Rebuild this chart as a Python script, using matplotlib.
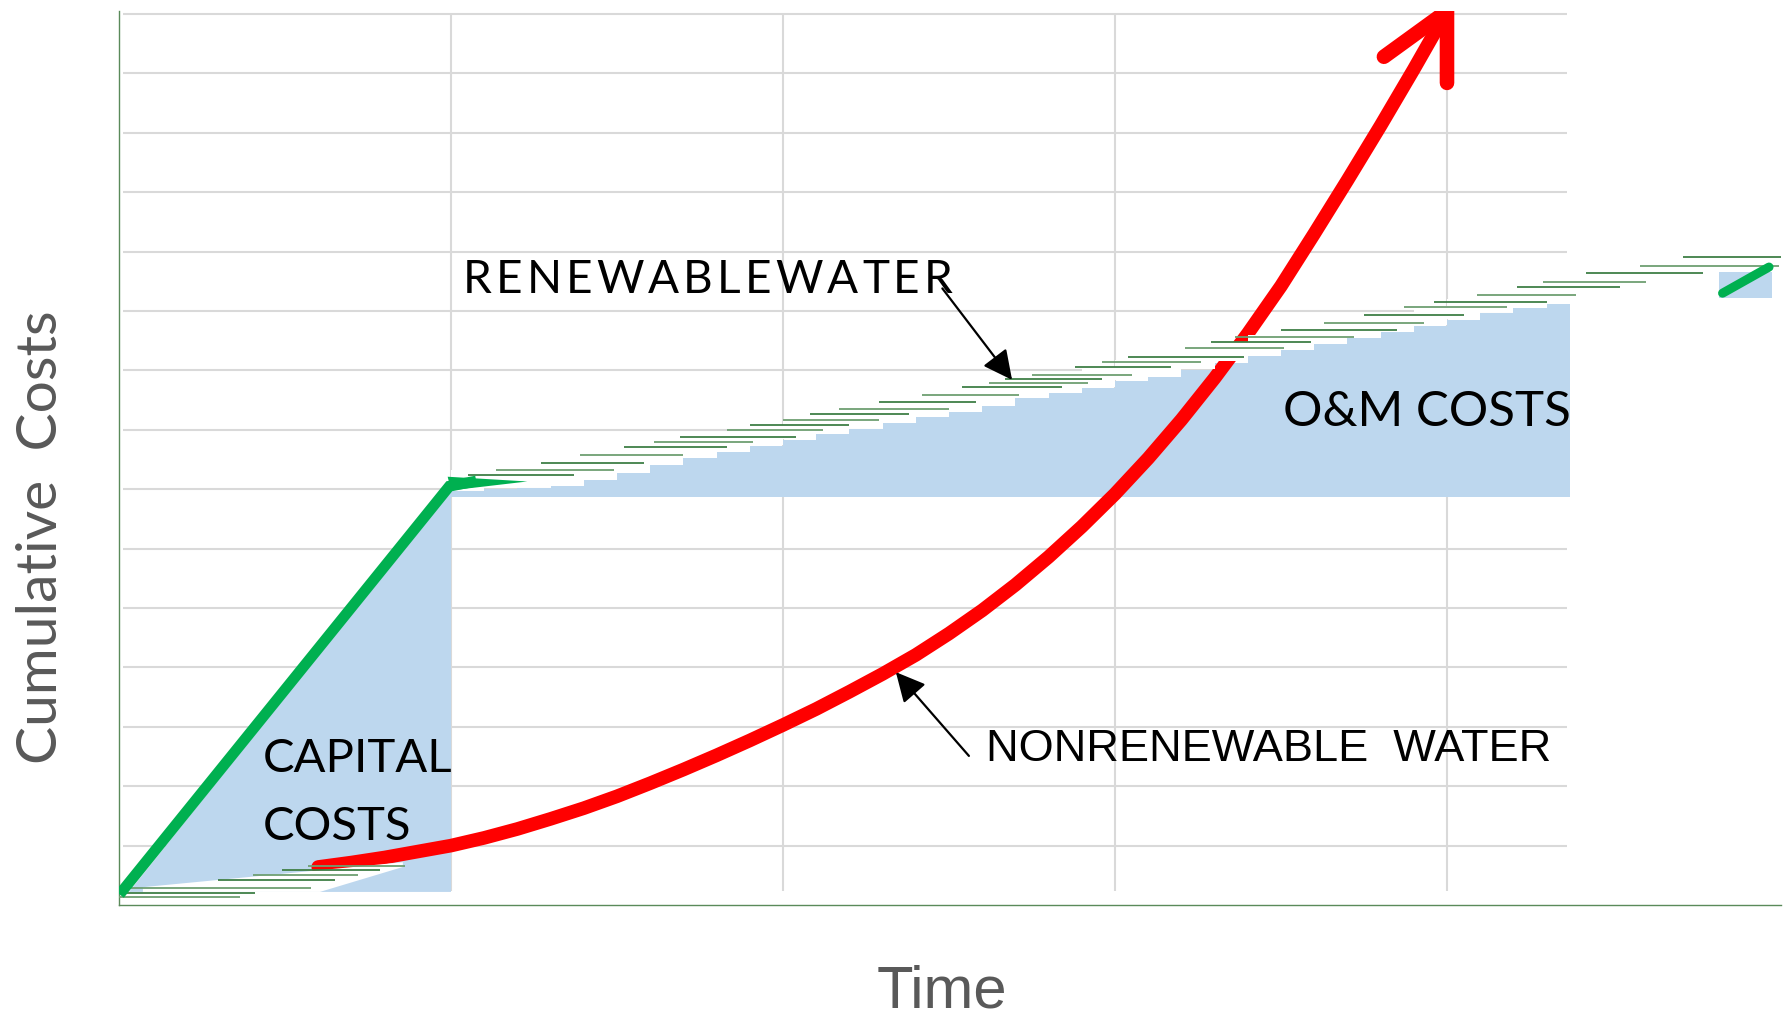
import matplotlib
matplotlib.use("Agg")
import matplotlib.pyplot as plt

# %% Dados (unidades do gráfico: x = tempo, y = custo acumulado)
# linha verde - renovável (custo de capital)
cap_x = [0.012, 0.995, 1.06]
cap_y = [0.25, 7.05, 7.12]
taper_x = [0.99, 1.23, 1.0]
taper_y = [7.21, 7.13, 6.98]
# área azul - capital
capfill_x = [0.03, 1.0, 1.0]
capfill_y = [0.22, 7.0, 0.22]
# área azul - O&M (degraus)
om_x = [1.0, 1.1, 1.2, 1.3, 1.4, 1.5, 1.6, 1.7, 1.8, 1.9, 2.0, 2.1, 2.2, 2.3, 2.4, 2.5, 2.6,
        2.7, 2.8, 2.9, 3.0, 3.1, 3.2, 3.3, 3.4, 3.5, 3.6, 3.7, 3.8, 3.9, 4.0, 4.1, 4.2, 4.3, 4.37]
om_top = [6.97, 7.0, 7.02, 7.05, 7.15, 7.28, 7.40, 7.52, 7.62, 7.73, 7.83, 7.93, 8.02, 8.12,
          8.21, 8.30, 8.40, 8.53, 8.62, 8.70, 8.82, 8.89, 9.0, 9.13, 9.24, 9.34, 9.44, 9.54,
          9.64, 9.74, 9.85, 9.96, 10.05, 10.12, 10.12]
om_base = 6.87
# linhas finas verdes (degraus "renewable water")
step_y = [7.24, 7.33, 7.44, 7.58, 7.71, 7.79, 7.88, 8.00, 8.08, 8.16, 8.27, 8.35, 8.47, 8.59,
          8.72, 8.79, 8.86, 8.92, 9.06, 9.14, 9.23, 9.38, 9.48, 9.56, 9.68, 9.80, 9.93, 10.07,
          10.15, 10.27, 10.40, 10.49, 10.64, 10.76, 10.91,
          0.135, 0.20, 0.286, 0.42, 0.505, 0.59, 0.657]
step_x0 = [1.05, 1.135, 1.27, 1.39, 1.52, 1.61, 1.69, 1.83, 1.90, 2.00, 2.08, 2.17, 2.29, 2.42,
           2.54, 2.62, 2.67, 2.75, 2.88, 2.96, 3.04, 3.21, 3.29, 3.36, 3.50, 3.63, 3.75, 3.87,
           3.96, 4.09, 4.21, 4.29, 4.42, 4.58, 4.71,
           0.0, 0.0, 0.0, 0.298, 0.404, 0.49, 0.57]
step_x1 = [1.37, 1.49, 1.58, 1.70, 1.83, 1.91, 2.04, 2.12, 2.20, 2.29, 2.38, 2.50, 2.58, 2.71,
           2.84, 2.92, 2.96, 3.05, 3.17, 3.26, 3.39, 3.51, 3.59, 3.72, 3.85, 3.93, 4.05, 4.18,
           4.30, 4.39, 4.52, 4.60, 4.77, 5.00, 5.01,
           0.364, 0.41, 0.578, 0.65, 0.72, 0.786, 0.86]
# recorte branco no canto inferior
wedge_x = [0.072, 0.855, 0.855, 0.605, 0.072]
wedge_y = [0.30, 0.72, 0.64, 0.22, 0.22]
# linha vermelha - não renovável
red_x = [0.6, 0.7, 0.8, 0.9, 1.0, 1.1, 1.2, 1.3, 1.4, 1.5, 1.6, 1.7, 1.8, 1.9, 2.0, 2.1, 2.2,
         2.3, 2.4, 2.5, 2.6, 2.7, 2.8, 2.9, 3.0, 3.1, 3.2, 3.3, 3.4, 3.5, 3.6, 3.7, 3.8, 3.9, 4.0]
red_y = [0.64, 0.715, 0.80, 0.90, 1.0, 1.13, 1.28, 1.45, 1.63, 1.83, 2.05, 2.28, 2.52, 2.77,
         3.03, 3.30, 3.59, 3.89, 4.21, 4.57, 4.96, 5.39, 5.86, 6.37, 6.92, 7.52, 8.17, 8.87,
         9.62, 10.42, 11.30, 12.20, 13.12, 14.07, 15.05]
barb_x = [3.81, 4.0, 4.0]
barb_y = [14.28, 15.05, 13.84]
# pedaço solto à direita
mini_x = [4.83, 4.97]
mini_y = [10.30, 10.74]

# %% Cores
azul = "#bdd7ee"
verde = "#00b050"
verde_fino = "#3f7f46"
vermelho = "#ff0000"
grade = "#d9d9d9"
cinza = "#595959"

# %% Figura
fig = plt.figure(figsize=(17.9, 10.16), dpi=100)
ax = fig.add_axes([119/1790, 111/1016, 1662/1790, 894/1016])
ax.set_xlim(0, 1662/332)
ax.set_ylim(0, 894/59.4)
ax.set_xticks([])
ax.set_yticks([])
for s in ["top", "right"]:
    ax.spines[s].set_visible(False)
for s in ["left", "bottom"]:
    ax.spines[s].set_color("#5a8a5a")
    ax.spines[s].set_linewidth(1.0)

# grade
ax.hlines(range(1, 16), 0.012, 4.36, color=grade, lw=1.5, zorder=0.5)
ax.vlines(range(1, 5), 0.235, 15, color=grade, lw=1.5, zorder=0.5)

# áreas azuis
ax.fill(capfill_x, capfill_y, color=azul, lw=0, zorder=1)
ax.fill_between(om_x, om_base, om_top, step="post", color=azul, lw=0, zorder=1)
ax.fill_between([4.82, 4.98], 10.22, 10.66, color=azul, lw=0, zorder=1)

# curva vermelha
ax.plot(red_x, red_y, color=vermelho, lw=9.8, solid_capstyle="round",
        solid_joinstyle="round", zorder=2)
ax.plot(barb_x, barb_y, color=vermelho, lw=10.5, solid_capstyle="round",
        solid_joinstyle="round", zorder=2)

# faixa branca acima dos degraus e recorte inferior
ax.fill_between(om_x, [v + 0.02 for v in om_top], [v + 0.35 for v in om_top],
                step="post", color="white", lw=0, zorder=3)
ax.fill(wedge_x, wedge_y, color="white", lw=0, zorder=3)

# linhas finas verdes
for i, (y, a, b) in enumerate(zip(step_y, step_x0, step_x1)):
    ax.plot([a, b], [y, y], color=verde_fino if i % 2 == 0 else "#6e9f72",
            lw=1.3, zorder=4, solid_capstyle="butt")

# linha verde grossa
ax.plot(cap_x, cap_y, color=verde, lw=7.8, solid_joinstyle="miter", zorder=5)
ax.fill(taper_x, taper_y, color=verde, lw=0, zorder=5)
ax.plot(mini_x, mini_y, color=verde, lw=6.5, solid_capstyle="round", zorder=5)

# texto espaçado "RENEWABLEWATER" (letras com espaçamento constante)
letras = "RENEWABLEWATER"
r = fig.canvas.get_renderer()
inv = ax.transData.inverted()
objs, larg = [], []
for ch in letras:
    t = ax.text(0, 10.52, ch, ha="left", va="center", family="Lato",
                fontsize=33, color="black", zorder=6)
    objs.append(t)
    larg.append(t.get_window_extent(r).width)
gap = (490 - sum(larg)) / (len(letras) - 1)
xpx = ax.transData.transform((1.035, 0))[0]
for t, w in zip(objs, larg):
    t.set_x(inv.transform((xpx, 0))[0])
    xpx += w + gap

ax.text(3.506, 8.30, "O&M COSTS", ha="left", va="center", family="Lato",
        fontsize=35.5, color="black", zorder=6)
ax.text(0.434, 2.45, "CAPITAL", ha="left", va="center", family="Lato",
        fontsize=34, color="black", zorder=6)
ax.text(0.434, 1.32, "COSTS", ha="left", va="center", family="Lato",
        fontsize=34, color="black", zorder=6)
ax.text(2.611, 2.61, "NONRENEWABLE  WATER", ha="left", va="center",
        family="Liberation Sans", fontsize=32.5, color="black", zorder=6)

# setas
seta = dict(arrowstyle="-|>,head_length=0.6,head_width=0.3", color="black",
            lw=1.6, shrinkA=0, shrinkB=0, mutation_scale=30)
ax.annotate("", xy=(2.69, 8.84), xytext=(2.48, 10.38), arrowprops=seta, zorder=6)
ax.annotate("", xy=(2.34, 3.92), xytext=(2.56, 2.51), arrowprops=seta, zorder=6)

# rótulos dos eixos
fig.text(57/1790, 1 - 537/1016, "Cumulative  Costs", rotation=90, rotation_mode="anchor",
         ha="center", va="baseline", family="Lato", fontsize=41, color=cinza)
fig.text(942/1790, 1 - 1007/1016, "Time", ha="center", va="baseline",
         family="Liberation Sans", fontsize=43, color=cinza)

plt.savefig("out.png", dpi=100)
